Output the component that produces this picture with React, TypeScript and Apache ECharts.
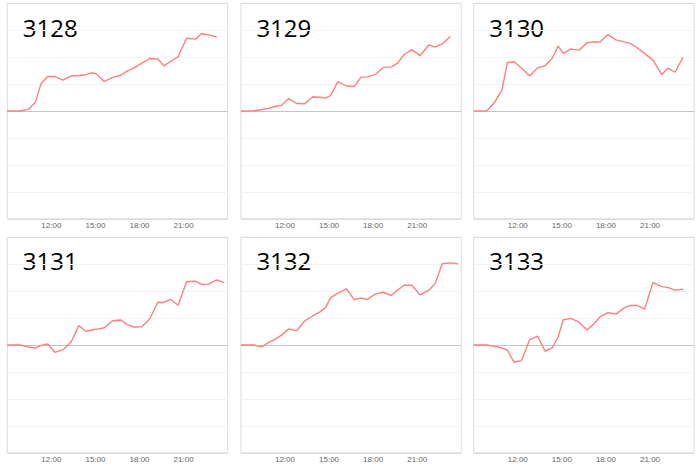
import React, { useEffect, useRef } from "react";
import * as echarts from "echarts";

// Shared time stamps (hours of day)
const TIMES = [9, 9.88, 10.42, 10.92, 11.29, 11.75, 12.25, 12.8, 13.35, 13.86, 14.35, 14.75, 15.1, 15.6, 16.17, 16.72, 17.17, 17.6, 18.14, 18.68, 19.25, 19.66, 20.1, 20.63, 21.2, 21.8, 22.22, 22.7, 23.25, 23.77];

const TITLES = ["3128", "3129", "3130", "3131", "3132", "3133"];

const S3128 = [0, 0, 0.06, 0.33, 1.01, 1.28, 1.28, 1.15, 1.31, 1.32, 1.35, 1.42, 1.37, 1.1, 1.25, 1.33, 1.49, 1.59, 1.77, 1.95, 1.93, 1.68, 1.84, 2.02, 2.7, 2.67, 2.88, 2.83, 2.75];
const S3129 = [0, 0.01, 0.05, 0.11, 0.17, 0.21, 0.46, 0.28, 0.27, 0.52, 0.51, 0.48, 0.57, 1.09, 0.93, 0.91, 1.25, 1.27, 1.35, 1.62, 1.64, 1.78, 2.09, 2.28, 2.06, 2.46, 2.37, 2.49, 2.77];
const S3130 = [0, 0, 0.32, 0.78, 1.8, 1.83, 1.6, 1.31, 1.6, 1.68, 1.96, 2.41, 2.14, 2.3, 2.26, 2.54, 2.57, 2.56, 2.84, 2.64, 2.57, 2.51, 2.36, 2.14, 1.89, 1.36, 1.59, 1.44, 2.0];
const S3131 = [0, 0, -0.07, -0.11, -0.01, 0.04, -0.27, -0.17, 0.12, 0.72, 0.51, 0.56, 0.59, 0.64, 0.9, 0.93, 0.76, 0.67, 0.68, 0.96, 1.59, 1.58, 1.7, 1.48, 2.35, 2.37, 2.25, 2.26, 2.42, 2.32];
const S3132 = [0, 0, -0.07, 0.11, 0.2, 0.36, 0.6, 0.53, 0.9, 1.07, 1.22, 1.38, 1.75, 1.93, 2.09, 1.68, 1.75, 1.69, 1.89, 1.96, 1.84, 2.04, 2.22, 2.22, 1.86, 2.04, 2.28, 3.02, 3.05, 3.02];
const S3133 = [0, 0, -0.05, -0.11, -0.19, -0.64, -0.58, 0.19, 0.33, -0.23, -0.1, 0.31, 0.94, 0.99, 0.85, 0.56, 0.78, 1.05, 1.2, 1.15, 1.38, 1.47, 1.48, 1.33, 2.32, 2.17, 2.14, 2.04, 2.07];

const SERIES = [S3128, S3129, S3130, S3131, S3132, S3133];

const COLS = [7.3, 240.9, 473.7];
const ROWS = [3.3, 237.3];
const PANEL_W = 220.4;
const PANEL_H = 215.5;

const BORDER = "#dcdcdc";
const FAINT = "#f3f3f3";
const ZERO = "#c4c4c4";
const SPLIT_COLORS = [BORDER, FAINT, FAINT, FAINT, ZERO, FAINT, FAINT, FAINT, BORDER];

export default function App() {
  const ref = useRef<HTMLDivElement>(null);

  useEffect(() => {
    document.body.style.margin = "0";
    if (!ref.current) return;
    const chart = echarts.init(ref.current, undefined, { renderer: "svg" });

    const grids: any[] = [];
    const xAxes: any[] = [];
    const yAxes: any[] = [];
    const series: any[] = [];
    const graphics: any[] = [];

    SERIES.forEach((vals, i) => {
      const left = COLS[i % 3];
      const top = ROWS[Math.floor(i / 3)];
      grids.push({
        left,
        top,
        width: PANEL_W,
        height: PANEL_H,
        show: true,
        borderColor: BORDER,
        borderWidth: 1,
        backgroundColor: "transparent",
        containLabel: false,
      });
      xAxes.push({
        gridIndex: i,
        type: "value",
        min: 9,
        max: 24,
        interval: 3,
        axisLine: { show: false, onZero: false },
        axisTick: { show: false },
        splitLine: { show: false },
        axisLabel: {
          formatter: (v: number) => `${v}:00`,
          showMinLabel: false,
          showMaxLabel: false,
          fontSize: 8,
          color: "#666",
          margin: 3,
          fontFamily: "Liberation Sans, Arial, sans-serif",
        },
      });
      yAxes.push({
        gridIndex: i,
        type: "value",
        min: -4,
        max: 4,
        interval: 1,
        axisLabel: { show: false },
        axisLine: { show: false },
        axisTick: { show: false },
        splitLine: { show: true, lineStyle: { color: SPLIT_COLORS, width: 1 } },
      });
      series.push({
        type: "line",
        xAxisIndex: i,
        yAxisIndex: i,
        data: vals.map((v, k) => [TIMES[k], v]),
        symbol: "none",
        showSymbol: false,
        silent: true,
        lineStyle: { color: "#ff7f7f", width: 1.4 },
      });
      graphics.push({
        type: "text",
        x: left + 15.5,
        y: Math.floor(i / 3) === 0 ? 27 : 260,
        style: {
          text: TITLES[i],
          fontSize: 24,
          fontFamily: "Open Sans, Noto Sans, sans-serif",
          fill: "#000",
          verticalAlign: "middle",
          textVerticalAlign: "middle",
        },
      });
    });

    chart.setOption({
      animation: false,
      grid: grids,
      xAxis: xAxes,
      yAxis: yAxes,
      series,
      graphic: graphics,
    });

    return () => chart.dispose();
  }, []);

  return <div ref={ref} style={{ width: 700, height: 466 }} />;
}
